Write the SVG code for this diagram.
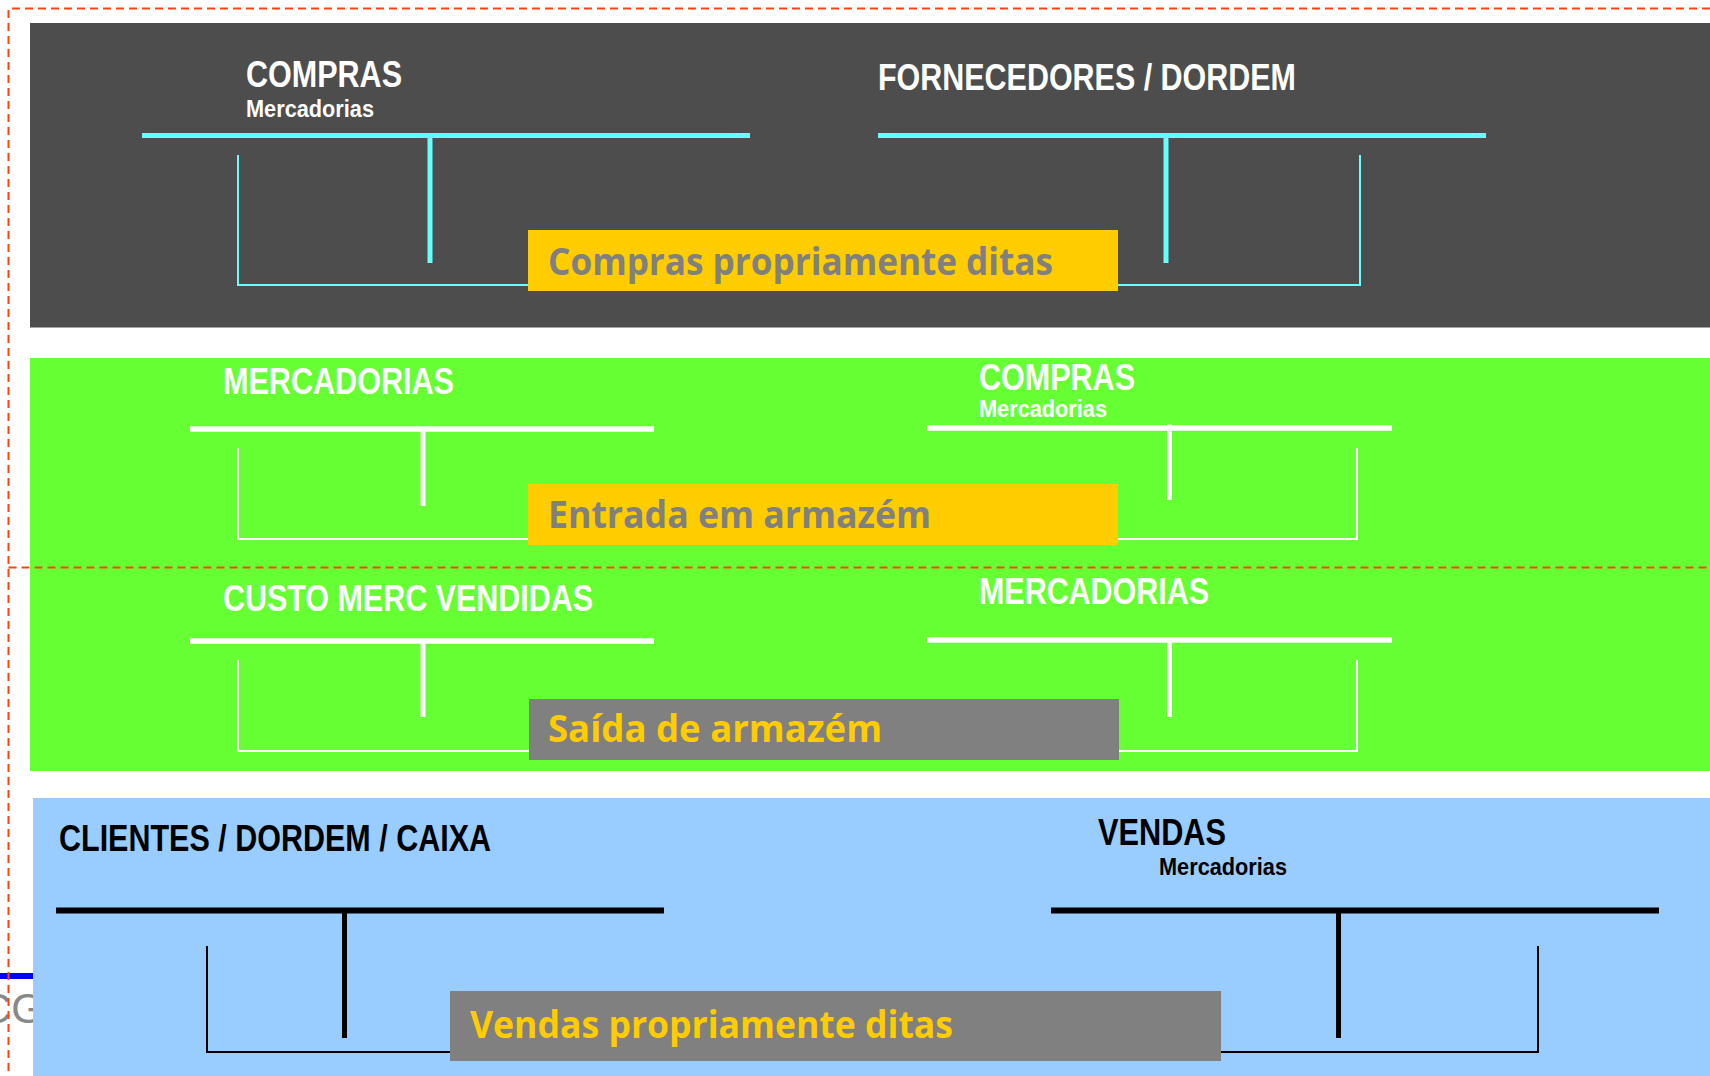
<svg xmlns="http://www.w3.org/2000/svg" width="1710" height="1076" viewBox="0 0 1710 1076">
<style>
.title{font-family:"Liberation Sans",Arial,sans-serif;font-weight:bold;font-size:36px}
.sub{font-family:"Liberation Sans",Arial,sans-serif;font-weight:bold;font-size:24px}
.lbl{font-family:"Comic Sans MS","Open Sans","DejaVu Sans",sans-serif;font-weight:bold;font-size:38px}
.w{fill:#ffffff}.k{fill:#000000}
.tc{stroke:#66ffff;fill:none}
.tw{stroke:#ffffff;fill:none}
.tk{stroke:#000000;fill:none}
.dash{stroke:#ff4411;stroke-width:2;stroke-dasharray:8 5;fill:none}
</style>
<rect width="1710" height="1076" fill="#ffffff"/>
<g id="cg-fragment">
<text x="-19" y="1023" font-family="Liberation Sans,Arial,sans-serif" font-size="42" fill="#888888">CG</text>
<line x1="0" y1="976" x2="34" y2="976" stroke="#0000ff" stroke-width="6"/>
</g>
<g id="band-compras">
<rect x="30" y="23" width="1680" height="304.5" fill="#4d4d4d"/>
<g id="acc-compras-merc">
<text class="title w" x="246" y="87" textLength="156" lengthAdjust="spacingAndGlyphs">COMPRAS</text>
<text class="sub w" x="246" y="117" textLength="128" lengthAdjust="spacingAndGlyphs">Mercadorias</text>
<line class="tc" x1="142" y1="135.5" x2="750" y2="135.5" stroke-width="5"/>
<line class="tc" x1="430" y1="137" x2="430" y2="263" stroke-width="5"/>
<polyline class="tc" points="238,155 238,285 528,285" stroke-width="2"/>
</g>
<g id="acc-fornecedores">
<text class="title w" x="878" y="90" textLength="418" lengthAdjust="spacingAndGlyphs">FORNECEDORES / DORDEM</text>
<line class="tc" x1="878" y1="135.5" x2="1486" y2="135.5" stroke-width="5"/>
<line class="tc" x1="1166" y1="137" x2="1166" y2="263" stroke-width="5"/>
<polyline class="tc" points="1118,285 1360,285 1360,155" stroke-width="2"/>
</g>
<g id="lbl-compras">
<rect x="528" y="230" width="590" height="61" fill="#ffcc00"/>
<text class="lbl" x="548" y="275" fill="#808080" textLength="505" lengthAdjust="spacingAndGlyphs">Compras propriamente ditas</text>
</g>
</g>
<g id="band-armazem">
<rect x="30" y="358" width="1680" height="413" fill="#66ff33"/>
<g id="acc-mercadorias-1">
<text class="title w" x="223" y="394" textLength="231" lengthAdjust="spacingAndGlyphs">MERCADORIAS</text>
<line class="tw" x1="190" y1="429" x2="654" y2="429" stroke-width="5.5"/>
<line class="tw" x1="423" y1="431" x2="423" y2="506" stroke-width="5"/>
<polyline class="tw" points="238,448 238,539 528,539" stroke-width="2"/>
</g>
<g id="acc-compras-2">
<text class="title w" x="979" y="390" textLength="156" lengthAdjust="spacingAndGlyphs">COMPRAS</text>
<text class="sub w" x="979" y="417" textLength="128" lengthAdjust="spacingAndGlyphs">Mercadorias</text>
<line class="tw" x1="927" y1="428" x2="1392" y2="428" stroke-width="5.5"/>
<line class="tw" x1="1169.5" y1="424.5" x2="1169.5" y2="500" stroke-width="5"/>
<polyline class="tw" points="1118,539 1357,539 1357,448" stroke-width="2"/>
</g>
<g id="lbl-entrada">
<rect x="528" y="484" width="590" height="61" fill="#ffcc00"/>
<text class="lbl" x="548" y="528" fill="#808080" textLength="383" lengthAdjust="spacingAndGlyphs">Entrada em armazém</text>
</g>
<g id="acc-cmv">
<text class="title w" x="223" y="611" textLength="370" lengthAdjust="spacingAndGlyphs">CUSTO MERC VENDIDAS</text>
<line class="tw" x1="190" y1="641" x2="654" y2="641" stroke-width="5.5"/>
<line class="tw" x1="423" y1="643" x2="423" y2="717" stroke-width="5"/>
<polyline class="tw" points="238,660 238,751 529,751" stroke-width="2"/>
</g>
<g id="acc-mercadorias-2">
<text class="title w" x="979" y="604" textLength="230" lengthAdjust="spacingAndGlyphs">MERCADORIAS</text>
<line class="tw" x1="927" y1="640" x2="1392" y2="640" stroke-width="5.5"/>
<line class="tw" x1="1169.5" y1="642" x2="1169.5" y2="717" stroke-width="5"/>
<polyline class="tw" points="1119,751 1357,751 1357,660" stroke-width="2"/>
</g>
<g id="lbl-saida">
<rect x="529" y="699" width="590" height="61" fill="#808080"/>
<text class="lbl" x="548" y="742" fill="#ffcc00" textLength="334" lengthAdjust="spacingAndGlyphs">Saída de armazém</text>
</g>
</g>
<g id="band-vendas">
<rect x="33" y="798" width="1677" height="278" fill="#99ccff"/>
<g id="acc-clientes">
<text class="title k" x="59" y="851" textLength="432" lengthAdjust="spacingAndGlyphs">CLIENTES / DORDEM / CAIXA</text>
<line class="tk" x1="56" y1="910.5" x2="664" y2="910.5" stroke-width="6"/>
<line class="tk" x1="344.5" y1="912" x2="344.5" y2="1038" stroke-width="5"/>
<polyline class="tk" points="207,946 207,1052 450,1052" stroke-width="2"/>
</g>
<g id="acc-vendas">
<text class="title k" x="1098" y="845" textLength="128" lengthAdjust="spacingAndGlyphs">VENDAS</text>
<text class="sub k" x="1159" y="875" textLength="128" lengthAdjust="spacingAndGlyphs">Mercadorias</text>
<line class="tk" x1="1051" y1="910.5" x2="1659" y2="910.5" stroke-width="6"/>
<line class="tk" x1="1338.5" y1="912" x2="1338.5" y2="1038" stroke-width="5"/>
<polyline class="tk" points="1221,1052 1538,1052 1538,946" stroke-width="2"/>
</g>
<g id="lbl-vendas">
<rect x="450" y="991" width="771" height="70" fill="#808080"/>
<text class="lbl" x="470" y="1038" fill="#ffcc00" textLength="483" lengthAdjust="spacingAndGlyphs">Vendas propriamente ditas</text>
</g>
</g>
<g id="connectors">
<polyline class="dash" points="1710,8.5 8.5,8.5 8.5,1076"/>
<line class="dash" x1="8.5" y1="567.5" x2="1710" y2="567.5"/>
</g>
</svg>
